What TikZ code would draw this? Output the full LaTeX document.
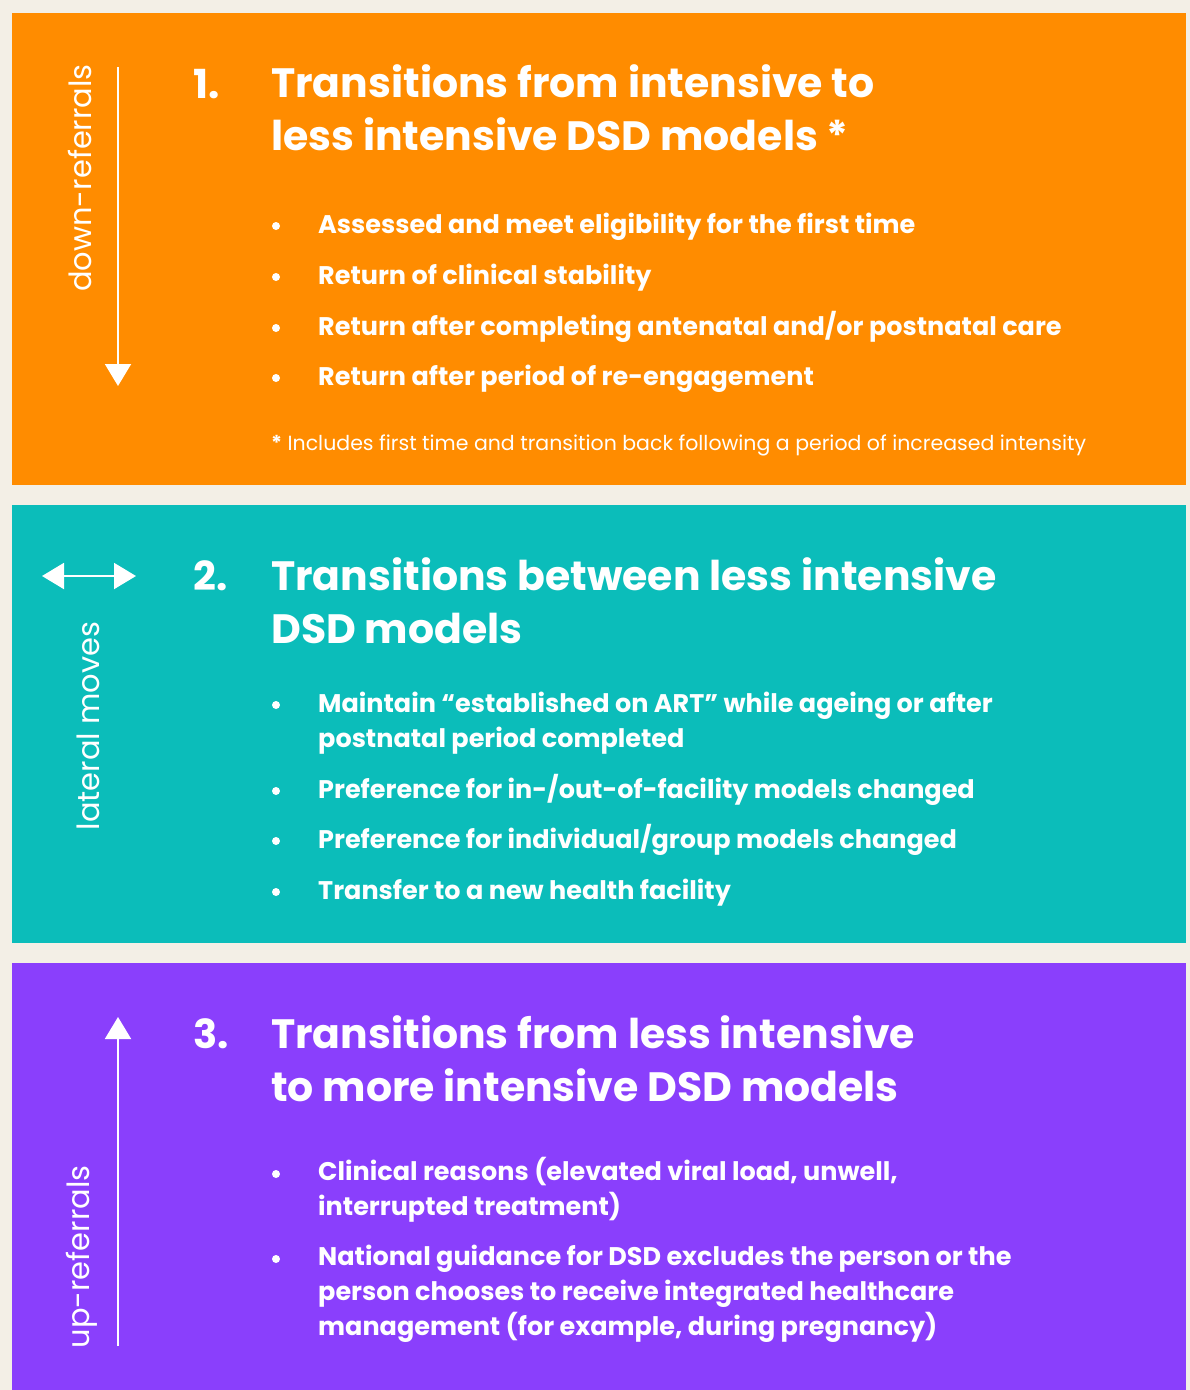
\documentclass[tikz,border=0pt]{standalone}
\usepackage{fontspec}
\setmainfont{Poppins}
\usepackage{tikz}
\usetikzlibrary{arrows.meta,positioning}
\definecolor{paper}{HTML}{F3EFE6}
\definecolor{dsdorange}{HTML}{FF8C00}
\definecolor{dsdteal}{HTML}{0BBDBA}
\definecolor{dsdpurple}{HTML}{8A3FFC}

\begin{document}
\begin{tikzpicture}[x=1pt,y=-1pt,
      panel/.style={draw=none,inner sep=0pt,outer sep=0pt,minimum width=1174pt,anchor=north west},
      num/.style={anchor=base west,inner sep=0pt,text=white,font=\fontsize{40}{53}\selectfont\bfseries},
      title/.style={anchor=base west,inner sep=0pt,text=white,align=left,font=\fontsize{41}{53}\selectfont\bfseries},
      dot/.style={circle,fill=white,inner sep=0pt,minimum size=8pt},
      item/.style={anchor=base west,inner sep=0pt,text=white,align=left,font=\fontsize{25.5}{35}\selectfont\bfseries},
      note/.style={anchor=base west,inner sep=0pt,text=white,font=\fontsize{20.5}{24}\selectfont},
      side/.style={rotate=90,inner sep=0pt,text=white,font=\fontsize{30.5}{34}\selectfont},
      arrow/.style={-{Triangle[width=26pt,length=22pt]},line width=2pt,color=white},
      arrows2/.style={{Triangle[width=26pt,length=22pt]}-{Triangle[width=26pt,length=22pt]},line width=2pt,color=white}
    ]
      \fill[paper] (0,0) rectangle (1190,1390);

      % panel 1: down-referrals
      \node[panel,fill=dsdorange,minimum height=472pt] (p1) at (12,13) {};
      \coordinate (d0) at (118,67);
      \coordinate (d1) at (118,386);
      \draw[arrow] (d0)--(d1);
      \node[side] (s1) at (80,178) {down-referrals};
      \node[num] (n1) at (193,98) {1.};
      % multi-line nodes sit on their last baseline
      \node[title] (t1) at (271,150) {Transitions from intensive to\\less intensive DSD models *};
      \node[dot] (b11) at (276,226) {};
      \node[item] (i11) at (318,233) {Assessed and meet eligibility for the first time};
      \node[dot] (b12) at (276,277) {};
      \node[item] (i12) at (318,284) {Return of clinical stability};
      \node[dot] (b13) at (276,328) {};
      \node[item] (i13) at (318,335) {Return after completing antenatal and/or postnatal care};
      \node[dot] (b14) at (276,378) {};
      \node[item] (i14) at (318,385) {Return after period of re-engagement};
      \node[note] (f1) at (271,450) {\textbf{*} Includes first time and transition back following a period of increased intensity};

      % panel 2: lateral moves
      \node[panel,fill=dsdteal,minimum height=438pt] (p2) at (12,505) {};
      \coordinate (l0) at (42,576);
      \coordinate (l1) at (136,576);
      \draw[arrows2] (l0)--(l1);
      \node[side] (s2) at (88,726) {lateral moves};
      \node[num] (n2) at (193,590) {2.};
      \node[title] (t2) at (271,643) {Transitions between less intensive\\DSD models};
      \node[dot] (b21) at (276,705) {};
      \node[item] (i21) at (318,747) {Maintain “established on ART” while ageing or after\\postnatal period completed};
      \node[dot] (b22) at (276,791) {};
      \node[item] (i22) at (318,798) {Preference for in-/out-of-facility models changed};
      \node[dot] (b23) at (276,841) {};
      \node[item] (i23) at (318,848) {Preference for individual/group models changed};
      \node[dot] (b24) at (276,892) {};
      \node[item] (i24) at (318,899) {Transfer to a new health facility};

      % panel 3: up-referrals
      \node[panel,fill=dsdpurple,minimum height=427pt] (p3) at (12,963) {};
      \coordinate (u0) at (118,1346);
      \coordinate (u1) at (118,1017);
      \draw[arrow] (u0)--(u1);
      \node[side] (s3) at (82,1257) {up-referrals};
      \node[num] (n3) at (193,1048) {3.};
      \node[title] (t3) at (271,1101) {Transitions from less intensive\\to more intensive DSD models};
      \node[dot] (b31) at (276,1174) {};
      \node[item] (i31) at (318,1215) {Clinical reasons (elevated viral load, unwell,\\interrupted treatment)};
      \node[dot] (b32) at (276,1259) {};
      \node[item] (i32) at (318,1335) {National guidance for DSD excludes the person or the\\person chooses to receive integrated healthcare\\management (for example, during pregnancy)};
    \end{tikzpicture}
\end{document}
